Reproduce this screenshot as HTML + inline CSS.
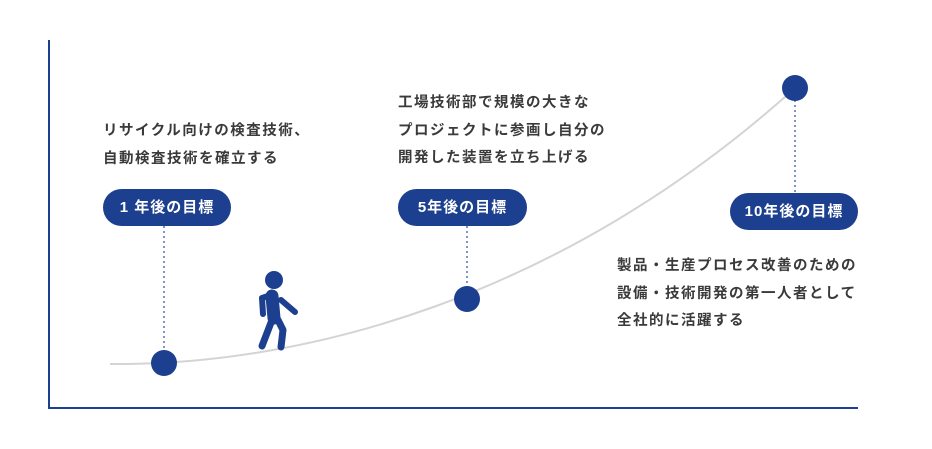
<!DOCTYPE html>
<html><head><meta charset="utf-8"><style>
body{margin:0;width:932px;height:449px;background:#fff;position:relative;overflow:hidden;font-family:"Liberation Sans","Noto Sans CJK JP",sans-serif}
.t{position:absolute;font-size:14.5px;letter-spacing:1.5px;color:#3a3a3a;font-weight:bold;line-height:27.5px;white-space:nowrap}
.p{position:absolute;background:#1c3f8f;color:#fff;font-weight:bold;font-size:15px;border-radius:19px;height:37px;line-height:37px;text-align:center;letter-spacing:1px}
</style></head><body>
<svg width="932" height="449" style="position:absolute;left:0;top:0">
<line x1="49" y1="40" x2="49" y2="409" stroke="#1c3f8f" stroke-width="2"/>
<line x1="48" y1="408" x2="858" y2="408" stroke="#1c3f8f" stroke-width="2"/>
<path d="M110 364 C300 366 560 300 795 88" fill="none" stroke="#d4d4d4" stroke-width="2"/>
<g stroke="#7f95c4" stroke-width="2" stroke-dasharray="2,3">
<line x1="164" y1="226" x2="164" y2="352"/>
<line x1="467" y1="226" x2="467" y2="288"/>
<line x1="795" y1="100" x2="795" y2="192"/>
</g>
<g fill="#1c3f8f">
<circle cx="164" cy="363" r="13"/>
<circle cx="467" cy="299" r="13"/>
<circle cx="795" cy="88" r="13"/>
<circle cx="274" cy="280" r="9"/>
</g>
<g stroke="#1c3f8f" stroke-linecap="round" stroke-linejoin="round" fill="none">
<path d="M272 296 L274 318" stroke-width="13"/>
<path d="M268 296 L262 298 L263 314" stroke-width="6"/>
<path d="M281 300 L295 312" stroke-width="6"/>
<path d="M272 320 L262 346" stroke-width="7"/>
<path d="M278 320 L283 330 L281 347" stroke-width="7"/>
</g>
</svg>
<div class="t" style="left:103px;top:118px">リサイクル向けの検査技術、<br>自動検査技術を確立する</div>
<div class="t" style="left:398px;top:90px">工場技術部で規模の大きな<br>プロジェクトに参画し自分の<br>開発した装置を立ち上げる</div>
<div class="t" style="left:617px;top:253px">製品・生産プロセス改善のための<br>設備・技術開発の第一人者として<br>全社的に活躍する</div>
<div class="p" style="left:103px;top:189px;width:128px">1 年後の目標</div>
<div class="p" style="left:398px;top:189px;width:129px">5年後の目標</div>
<div class="p" style="left:730px;top:193px;width:128px">10年後の目標</div>
</body></html>
